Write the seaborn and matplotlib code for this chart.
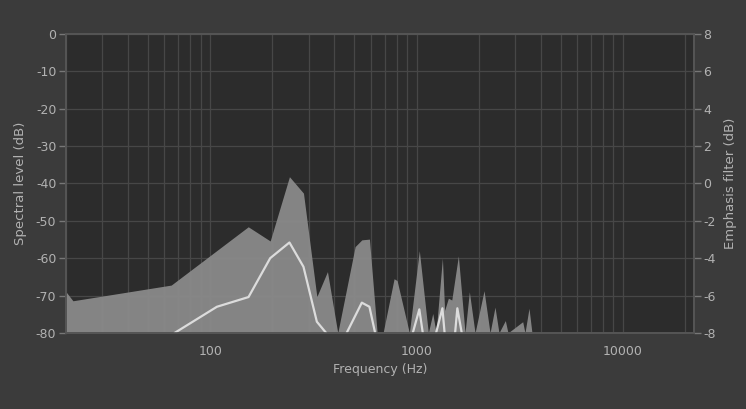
import numpy as np
import pandas as pd
import seaborn as sns
import matplotlib.pyplot as plt
from matplotlib.ticker import LogLocator, NullFormatter, FixedLocator

# spectrum (filled area), Hz / dB
spec_freq = [20, 21.6, 64.7, 152.8, 195.2, 242, 283, 328.6, 369.8, 415,
             503.7, 542.8, 590.8, 643.9, 688, 778, 804.6, 922.6, 1031, 1140,
             1198, 1243, 1334, 1367, 1426, 1481, 1594, 1717, 1802, 1920,
             2123, 2270, 2399, 2508, 2692, 2773, 3268, 3352, 3506, 3624, 22050]
spec_level = [-69, -71.4, -67.2, -51.6, -55.4, -38.2, -42.6, -70.3, -63.6, -80,
              -56.9, -55.1, -54.9, -80, -80, -65.5, -66, -80, -58, -80,
              -74.8, -80, -60, -74, -70.7, -71.2, -59.4, -80, -69, -80,
              -68.7, -80, -73.1, -80, -76.7, -80, -77, -80, -73.4, -80, -80]

# filtered spectrum (white line), split into visible pieces
line_freq = [67.2, 107.7, 153.3, 195.2, 242, 283, 328.6, 364.5,
             458.3, 542.8, 590.8, 629.6,
             958.6, 1031, 1071.5,
             1243, 1334, 1367,
             1537, 1576, 1655]
line_level = [-80, -73, -70.4, -60, -55.8, -62.3, -77, -80,
              -80, -71.9, -73, -80,
              -80, -73.7, -80,
              -80, -73.4, -80,
              -80, -73.4, -80]
line_piece = [0] * 8 + [1] * 4 + [2] * 3 + [3] * 3 + [4] * 3

left_ticks = [0, -10, -20, -30, -40, -50, -60, -70, -80]
right_ticks = [8, 6, 4, 2, 0, -2, -4, -6, -8]

fig_bg = "#3b3b3b"
ax_bg = "#2c2c2c"
txt = "#b2b2b2"
grid = "#474747"

sns.set_theme(style="dark", rc={
    "figure.facecolor": fig_bg,
    "axes.facecolor": ax_bg,
    "axes.edgecolor": "#555555",
    "text.color": txt,
    "axes.labelcolor": txt,
    "xtick.color": txt,
    "ytick.color": txt,
    "grid.color": grid,
    "axes.unicode_minus": False,
})

fig = plt.figure(figsize=(7.46, 4.09), dpi=100)
ax = fig.add_axes([0.0885, 0.186, 0.8415, 0.731])

ax.fill_between(spec_freq, spec_level, -80, color="#8c8c8c", alpha=0.93,
                linewidth=0, zorder=1)

df = pd.DataFrame({"freq": line_freq, "level": line_level, "piece": line_piece})
sns.lineplot(data=df, x="freq", y="level", units="piece", estimator=None,
             color="#dcdcdc", linewidth=1.6, ax=ax, zorder=3)

ax.set_xscale("log")
ax.set_xlim(20, 22050)
ax.set_ylim(-80, 0)
ax.set_yticks(left_ticks)
ax.xaxis.set_major_locator(FixedLocator([100, 1000, 10000]))
ax.xaxis.set_major_formatter(plt.FuncFormatter(lambda v, p: f"{int(v)}"))
ax.xaxis.set_minor_locator(LogLocator(base=10, subs=np.arange(2, 10)))
ax.xaxis.set_minor_formatter(NullFormatter())
ax.set_axisbelow(True)
ax.grid(True, which="both", axis="x", color=grid, linewidth=0.9)
ax.grid(True, which="major", axis="y", color=grid, linewidth=0.9)
ax.tick_params(axis="x", which="major", length=5, width=1, color="#777777",
               labelsize=9, pad=4)
ax.tick_params(axis="x", which="minor", length=0)
ax.tick_params(axis="y", length=5, width=1, color="#777777", labelsize=9, pad=2)
ax.set_xlabel("Frequency (Hz)", fontsize=9, labelpad=3)
ax.set_ylabel("Spectral level (dB)", fontsize=9.5, labelpad=6)
for s in ax.spines.values():
    s.set_color("#555555")

ax2 = ax.twinx()
ax2.set_ylim(-8, 8)
ax2.set_yticks(right_ticks)
ax2.tick_params(axis="y", length=5, width=1, color="#777777", labelsize=9, pad=2)
ax2.set_ylabel("Emphasis filter (dB)", fontsize=9.5, labelpad=6)
ax2.grid(False)
for s in ax2.spines.values():
    s.set_color("#555555")

fig.savefig("out.png", dpi=100, facecolor=fig_bg)
